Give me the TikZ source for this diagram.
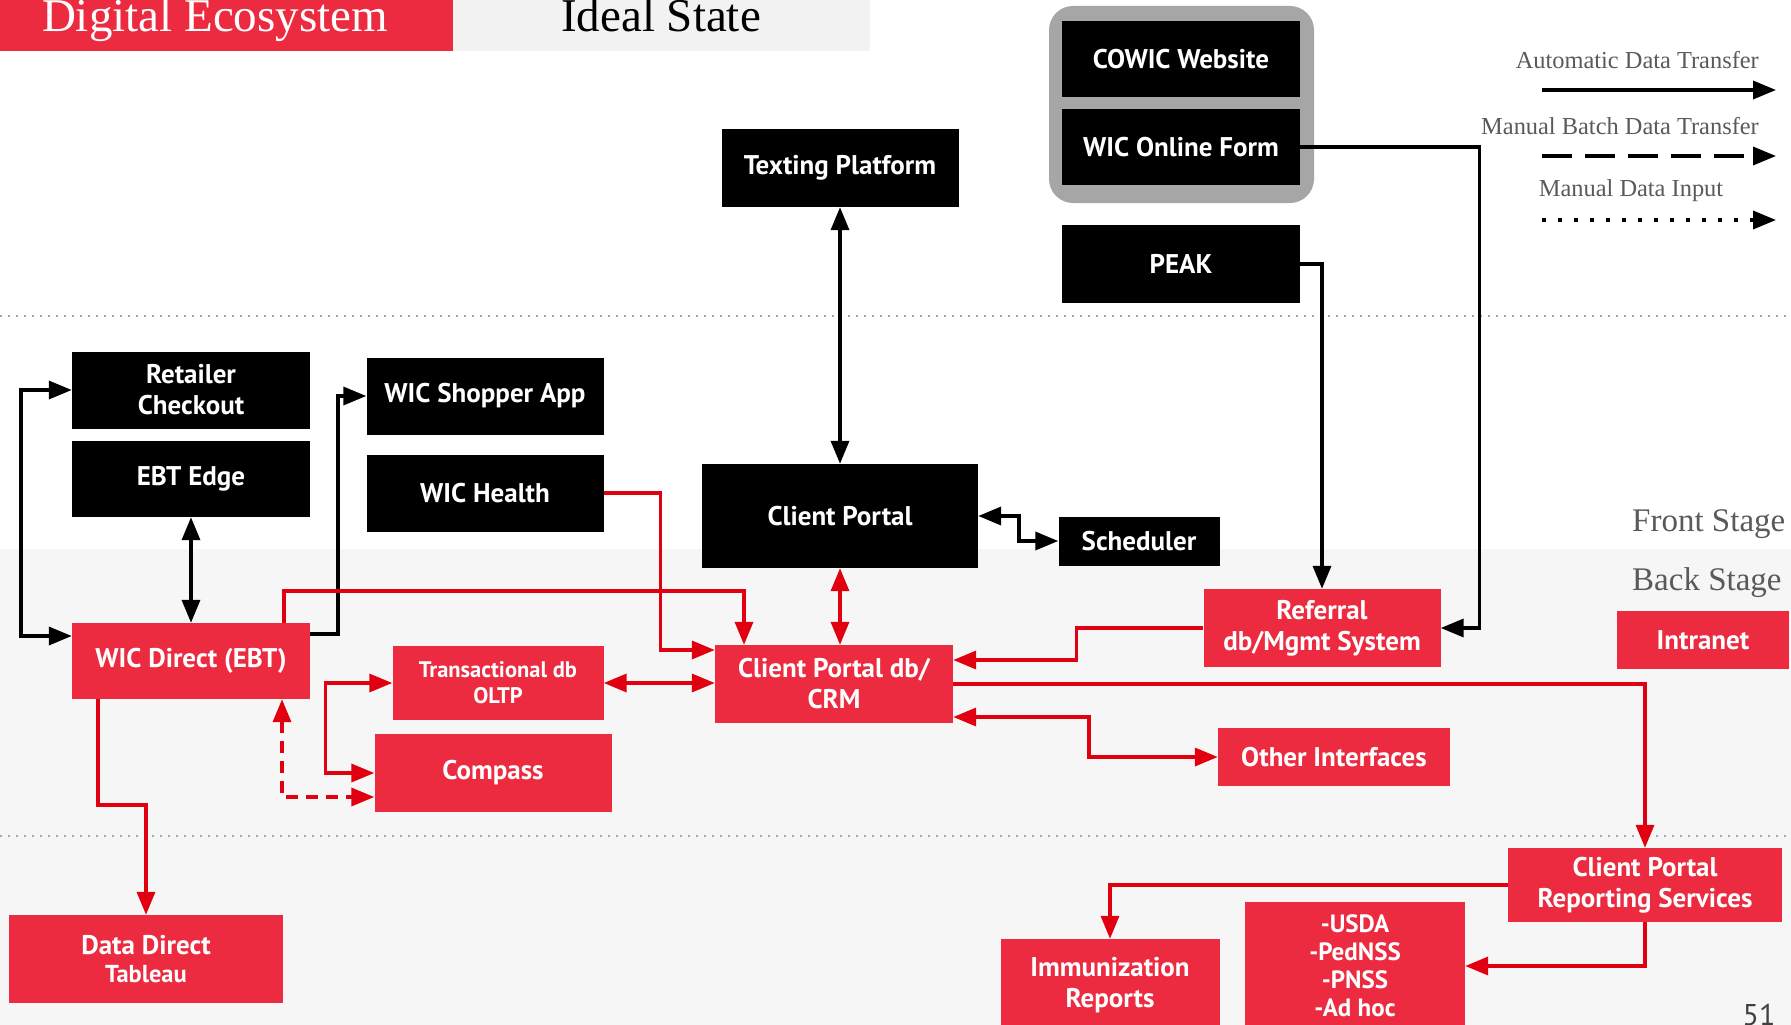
\documentclass[tikz,border=0pt]{standalone}
\usepackage{fontspec}
\setmainfont{Liberation Serif}
\setsansfont{PT Sans}
\usetikzlibrary{arrows.meta,calc}
\definecolor{boxred}{RGB}{236,43,64}
\definecolor{linered}{RGB}{225,0,15}
\definecolor{bggray}{RGB}{246,246,246}
\definecolor{titlegray}{RGB}{242,242,242}
\definecolor{legendgray}{RGB}{90,90,90}
\definecolor{grpgray}{RGB}{166,166,166}
\definecolor{sepgray}{RGB}{165,165,165}
\begin{document}
\begin{tikzpicture}[x=1pt,y=-1pt,
  box/.style={inner sep=0pt, align=center, text=white, font=\sffamily\bfseries\fontsize{27}{31}\selectfont},
  bbox/.style={box, fill=black},
  rbox/.style={box, fill=boxred},
  sz/.style 2 args={minimum width=#1pt, minimum height=#2pt},
  blk/.style={draw=black, line width=3.5pt},
  rln/.style={draw=linered, line width=3.5pt},
  myarr/.style={-{Triangle[length=23pt,width=18pt]}},
  mydarr/.style={{Triangle[length=23pt,width=18pt]}-{Triangle[length=23pt,width=18pt]}},
  sepline/.style={draw=sepgray, line width=2pt, dash pattern=on 2pt off 6pt},
  legtext/.style={text=legendgray, font=\fontsize{24.4}{27}\selectfont, inner sep=0pt},
  stagetext/.style={text=legendgray, font=\fontsize{33}{36}\selectfont, inner sep=0pt}
]
\useasboundingbox (0,0) rectangle (1791,1025);
\clip (0,0) rectangle (1791,1025);
% backgrounds
\fill[white] (0,0) rectangle (1791,549);
\fill[bggray] (0,549) rectangle (1791,1025);
\draw[sepline] (0,316) -- (1791,316);
\draw[sepline] (0,836) -- (1791,836);

% title bar
\node[fill=boxred, inner sep=0pt, sz={453}{51}, anchor=north west] (tbar) at (0,0) {};
\node[fill=titlegray, inner sep=0pt, sz={417}{51}, anchor=north west] (sbar) at (453,0) {};
\node[anchor=base, inner sep=0pt, text=white, font=\fontsize{47}{47}\selectfont] (ttl) at (215,32) {Digital Ecosystem};
\node[anchor=base, inner sep=0pt, text=black, font=\fontsize{47}{47}\selectfont] (sub) at (661,32) {Ideal State};

% legend
\node[legtext, anchor=east] (lt1) at (1759,60) {Automatic Data Transfer};
\node[legtext, anchor=east] (lt2) at (1759,126) {Manual Batch Data Transfer};
\node[legtext, anchor=center] (lt3) at (1631,191) {Manual Data Input};
\coordinate (l1s) at (1542,90); \coordinate (l1e) at (1776,90);
\coordinate (l2s) at (1542,156); \coordinate (l2e) at (1776,156);
\coordinate (l3s) at (1542,220); \coordinate (l3e) at (1776,220);
\draw[blk, myarr] (l1s) -- (l1e);
\draw[blk, myarr, dash pattern=on 30pt off 13pt] (l2s) -- (l2e);
\draw[blk, myarr, dash pattern=on 3.5pt off 12.5pt] (l3s) -- (l3e);

% stage labels
\node[stagetext, anchor=base west] (fs) at (1632,531) {Front Stage};
\node[stagetext, anchor=base west] (bs) at (1632,590) {Back Stage};
\node[anchor=base, inner sep=0pt, text=black!75, font=\sffamily\fontsize{30}{30}\selectfont] (pg) at (1759,1025) {51};

% group
\node[fill=grpgray, rounded corners=24pt, inner sep=0pt, sz={265}{197}] (grp) at (1181.5,104.5) {};

% black nodes
\node[bbox, sz={238}{76}] (cw) at (1181,59) {COWIC Website};
\node[bbox, sz={238}{76}] (wof) at (1181,147) {WIC Online Form};
\node[bbox, sz={238}{78}] (peak) at (1181,264) {PEAK};
\node[bbox, sz={237}{78}] (tp) at (840,168) {Texting Platform};
\node[bbox, sz={276}{104}] (cp) at (840,516) {Client Portal};
\node[bbox, sz={161}{49}] (sch) at (1139,541) {Scheduler};
\node[bbox, sz={238}{77}] (rc) at (191,390) {Retailer\\Checkout};
\node[bbox, sz={238}{76}] (ebt) at (191,479) {EBT Edge};
\node[bbox, sz={237}{77}] (wsa) at (485,396) {WIC Shopper App};
\node[bbox, sz={237}{77}] (wh) at (485,493) {WIC Health};

% red nodes
\node[rbox, sz={238}{76}] (wd) at (191,661) {WIC Direct (EBT)};
\node[rbox, sz={211}{74}, font=\sffamily\bfseries\fontsize{22.5}{26}\selectfont] (tr) at (498,683) {Transactional db\\OLTP};
\node[rbox, sz={237}{78}] (cmp) at (493,773) {Compass};
\node[rbox, sz={238}{78}] (cpdb) at (834,684) {Client Portal db/\\CRM};
\node[rbox, sz={237}{78}] (ref) at (1322,628) {Referral\\db/Mgmt System};
\node[rbox, sz={232}{58}] (oi) at (1334,757) {Other Interfaces};
\node[rbox, sz={172}{58}] (intr) at (1703,640) {Intranet};
\node[rbox, sz={274}{74}] (cprs) at (1645,885) {Client Portal\\Reporting Services};
\node[rbox, sz={219}{92}] (imm) at (1110,985) {Immunization\\Reports};
\node[rbox, sz={220}{128}, font=\sffamily\bfseries\fontsize{25}{28}\selectfont] (usda) at (1355,966) {-USDA\\-PedNSS\\-PNSS\\-Ad hoc};
\node[rbox, sz={274}{88}] (dd) at (146,959) {Data Direct\\[-3pt]{\fontsize{24.5}{28}\selectfont Tableau}};

% black connectors
\draw[blk, myarr] (wof.east) -| ([xshift=39pt]ref.east) -- (ref.east);
\draw[blk, myarr] (peak.east) -| (ref.north);
\draw[blk, mydarr] (tp.south) -- (cp.north);
\draw[blk, mydarr] (cp.east) -- ++(41,0) |- (sch.west);
\draw[blk, mydarr] (rc.west) -- ++(-51,0) |- ([yshift=25pt]wd.west);
\draw[blk, mydarr] (ebt.south) -- (wd.north);
\draw[blk, myarr] ([yshift=27pt]wd.east) -- ++(28,0) |- (wsa.west);

% red connectors
\draw[rln, myarr] (wh.east) -- ++(57,0) |- ([yshift=34pt]cpdb.west);
\draw[rln, myarr] ([xshift=93pt]wd.north) -- ++(0,-32) -| ([xshift=-90pt]cpdb.north);
\draw[rln, mydarr] (cp.south) -- (cp.south |- cpdb.north);
\draw[rln, mydarr] (tr.east) -- (cpdb.west |- tr.east);
\draw[rln, mydarr] (tr.west) -- ++(-67,0) |- (cmp.west);
\draw[rln, mydarr, dash pattern=on 12pt off 8pt] ([xshift=91pt]wd.south) |- ([yshift=-24pt]cmp.west);
\draw[rln, myarr] ([xshift=-93pt]wd.south) -- ++(0,106) -| (dd.north);
\draw[rln, myarr] (ref.west) -- ++(-127,0) |- ([yshift=24pt]cpdb.east);
\draw[rln, myarr] (cpdb.east) -| (cprs.north);
\draw[rln, mydarr] ([yshift=-33pt]cpdb.east) -- ++(136,0) |- (oi.west);
\draw[rln, myarr] (cprs.west) -| (imm.north);
\draw[rln, myarr] (cprs.south) |- (usda.east);
\end{tikzpicture}
\end{document}
